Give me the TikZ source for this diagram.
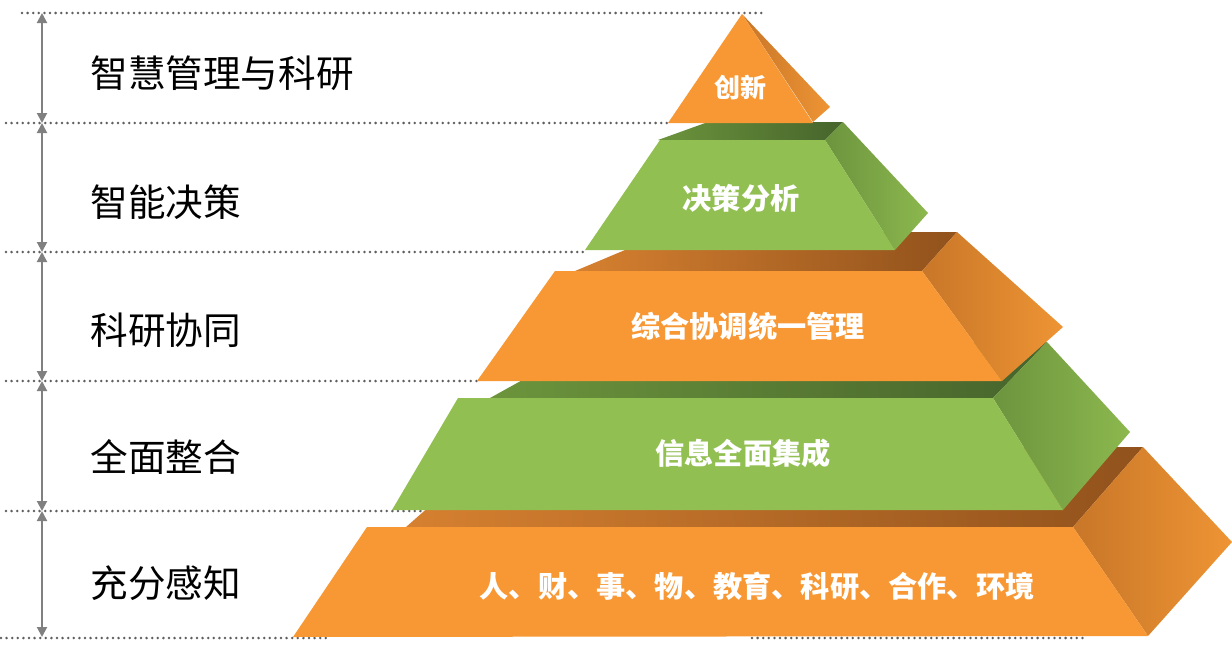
\documentclass[tikz,border=0pt]{standalone}
\usepackage{fontspec}
\setmainfont{Noto Sans CJK SC}
\usetikzlibrary{arrows.meta}
\definecolor{orF}{RGB}{247,152,52}
\definecolor{grF}{RGB}{146,191,82}
\definecolor{orSL}{RGB}{200,118,40}
\definecolor{orSR}{RGB}{238,148,52}
\definecolor{grSL}{RGB}{108,148,62}
\definecolor{grSR}{RGB}{140,184,78}
\definecolor{orTL}{RGB}{214,128,48}
\definecolor{orTR}{RGB}{145,82,28}
\definecolor{grTL}{RGB}{108,148,60}
\definecolor{grTR}{RGB}{70,100,44}
\definecolor{guide}{RGB}{95,95,95}
\definecolor{arrgray}{RGB}{128,128,128}
\tikzset{
  guideline/.style={draw=guide,line width=1.4pt,line cap=round,dash pattern=on 0pt off 2.8pt},
  dimarrow/.style={draw=arrgray,line width=1pt,{Triangle[width=5pt,length=5pt]}-{Triangle[width=5pt,length=5pt]}},
  sidelabel/.style={anchor=west,inner sep=0pt,font=\fontsize{18.8pt}{20pt}\selectfont,text=black},
  tierlabel/.style={inner sep=0pt,font=\bfseries\fontsize{14.6pt}{16pt}\selectfont,text=white},
  orfront/.style={fill=orF},
  grfront/.style={fill=grF},
  orside/.style={left color=orSL,right color=orSR},
  grside/.style={left color=grSL,right color=grSR},
  ortop/.style={left color=orTL,right color=orTR},
  grtop/.style={left color=grTL,right color=grTR}
}
\begin{document}
\begin{tikzpicture}[x=0.5pt,y=-0.5pt]
\useasboundingbox (0,0) rectangle (1232,648);
% guide lines
\draw[guideline] (22,13) -- (762,13);
\draw[guideline] (6,123) -- (668,123);
\draw[guideline] (6,252) -- (585,252);
\draw[guideline] (6,381) -- (478,381);
\draw[guideline] (6,511) -- (422,511);
\draw[guideline] (1,638) -- (330,638);
\draw[guideline] (752,638) -- (1086,638);
% dimension arrows
\coordinate (a0) at (42,13);
\coordinate (a1) at (42,123);
\coordinate (a2) at (42,252);
\coordinate (a3) at (42,381);
\coordinate (a4) at (42,511);
\coordinate (a5) at (42,637);
\draw[dimarrow] (a0) -- (a1);
\draw[dimarrow] (a1) -- (a2);
\draw[dimarrow] (a2) -- (a3);
\draw[dimarrow] (a3) -- (a4);
\draw[dimarrow] (a4) -- (a5);
% side labels
\node[sidelabel] (l1) at (90,73) {智慧管理与科研};
\node[sidelabel] (l2) at (90,202) {智能决策};
\node[sidelabel] (l3) at (90,330) {科研协同};
\node[sidelabel] (l4) at (90,457) {全面整合};
\node[sidelabel] (l5) at (90,583) {充分感知};
% tier 5
\shade[ortop] (406,527) -- (1073,527) -- (1143,447) -- (497,447) -- cycle;
\shade[orside] (1073,527) -- (1143,447) -- (1232,542) -- (1148,636) -- cycle;
\fill[orfront] (367,527) -- (1073,527) -- (1148,636) -- (293,637) -- cycle;
% tier 4
\shade[grtop] (490,398) -- (993,398) -- (1047,342) -- (591,342) -- cycle;
\shade[grside] (993,398) -- (1047,342) -- (1130,432) -- (1063,510) -- cycle;
\fill[grfront] (458,398) -- (993,398) -- (1063,510) -- (392,510) -- cycle;
% tier 3
\shade[ortop] (575,271) -- (922,271) -- (957,232) -- (668,232) -- cycle;
\shade[orside] (922,271) -- (957,232) -- (1063,327) -- (1002,381) -- cycle;
\fill[orfront] (555,271) -- (922,271) -- (1002,381) -- (477,381) -- cycle;
% tier 2
\shade[grtop] (658,140) -- (825,140) -- (843,122) -- (708,122) -- cycle;
\shade[grside] (825,140) -- (843,122) -- (928,213) -- (895,250) -- cycle;
\fill[grfront] (660,140) -- (825,140) -- (895,250) -- (585,250) -- cycle;
% tier 1
\shade[orside] (742,14) -- (830,107) -- (813,122) -- cycle;
\fill[orfront] (742,14) -- (813,123) -- (668,123) -- cycle;
% tier labels
\node[tierlabel,font=\bfseries\fontsize{13pt}{14pt}\selectfont] (t1) at (740,88) {创新};
\node[tierlabel] (t2) at (741,198) {决策分析};
\node[tierlabel] (t3) at (748,326) {综合协调统一管理};
\node[tierlabel] (t4) at (743,453) {信息全面集成};
\node[tierlabel] (t5) at (757,586) {人、财、事、物、教育、科研、合作、环境};
\end{tikzpicture}
\end{document}
